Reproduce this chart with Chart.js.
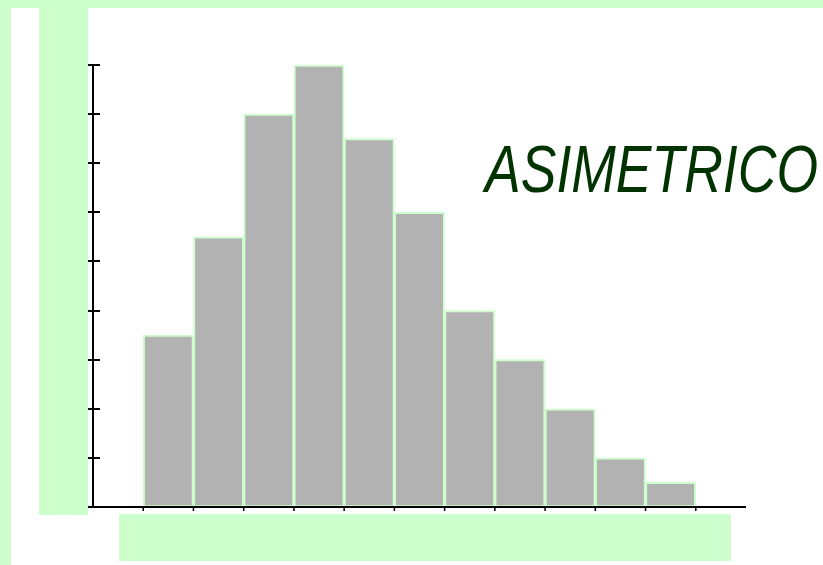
<!DOCTYPE html>
<html>
<head>
<meta charset="utf-8">
<title>Asimetrico</title>
<script src="https://cdn.jsdelivr.net/npm/chart.js@4/dist/chart.umd.min.js"></script>
<style>
    html, body { margin: 0; padding: 0; background: #fff; }
    canvas { display: block; }
</style>
</head>
<body>
<canvas id="hist" width="823" height="565"></canvas>
<script>
// class slots: empty slot at each end so the axis runs past the bars
const classes = ['', 'c1', 'c2', 'c3', 'c4', 'c5', 'c6', 'c7', 'c8', 'c9', 'c10', 'c11', '']
const freq = [null, 3.5, 5.5, 8, 9, 7.5, 6, 4, 3, 2, 1, 0.5, null]
const yTicks = [0, 1, 2, 3, 4, 5, 6, 7, 8, 9]
const title = 'ASIMETRICO'

const pale = '#ccffcc'

// pale green blocks behind the chart
const backdrop = {
    id: 'backdrop',
    beforeDraw(chart) {
        const c = chart.ctx
        c.save()
        c.fillStyle = '#fff'
        c.fillRect(0, 0, chart.width, chart.height)
        c.fillStyle = pale
        c.fillRect(0, 0, chart.width, 8)
        c.fillRect(0, 0, 11, chart.height)
        c.fillRect(39, 8, 49, 507)
        c.fillRect(119, 514, 612, 47)
        c.restore()
    }
}

// hand drawn axes: crossing ticks on y, small drop ticks on x at class limits
const axes = {
    id: 'axes',
    afterDatasetsDraw(chart) {
        const c = chart.ctx
        const x = chart.scales.x, y = chart.scales.y
        const area = chart.chartArea
        const y0 = y.getPixelForValue(0)
        c.save()
        c.strokeStyle = '#000'
        c.lineWidth = 2
        c.beginPath()
        c.moveTo(area.left, y.getPixelForValue(yTicks[yTicks.length - 1]))
        c.lineTo(area.left, y0)
        c.moveTo(area.left - 5, y0)
        c.lineTo(area.right, y0)
        yTicks.forEach(v => {
            const py = Math.round(y.getPixelForValue(v))
            c.moveTo(area.left - 5, py)
            c.lineTo(area.left + 7, py)
        })
        c.stroke()
        c.lineWidth = 1.5
        c.beginPath()
        const half = (x.getPixelForValue(1) - x.getPixelForValue(0)) / 2
        for (let i = 1; i < classes.length - 1; i++) {
            const px = x.getPixelForValue(i) - half
            c.moveTo(px, y0)
            c.lineTo(px, y0 + 4)
            if (i === classes.length - 2) {
                c.moveTo(px + 2 * half, y0)
                c.lineTo(px + 2 * half, y0 + 4)
            }
        }
        c.stroke()
        c.restore()
    }
}

// condensed italic caption
const caption = {
    id: 'caption',
    afterDraw(chart) {
        const c = chart.ctx
        c.save()
        c.font = 'italic 66px "Liberation Sans", Arial, sans-serif'
        c.fillStyle = '#003300'
        c.textBaseline = 'alphabetic'
        const w = c.measureText(title).width
        c.translate(485, 192)
        c.scale(333 / w, 1)
        c.fillText(title, 0, 0)
        c.restore()
    }
}

new Chart(document.getElementById('hist'), {
    type: 'bar',
    data: {
        labels: classes,
        datasets: [{
            data: freq,
            backgroundColor: '#b2b2b2',
            borderColor: pale,
            borderWidth: 2,
            borderSkipped: false,
            categoryPercentage: 1,
            barPercentage: 1
        }]
    },
    options: {
        responsive: false,
        devicePixelRatio: 1,
        animation: false,
        layout: { padding: { left: 93, top: 65, right: 77, bottom: 58 } },
        plugins: {
            legend: { display: false },
            tooltip: { enabled: false }
        },
        scales: {
            x: { display: false, offset: true },
            y: { display: false, min: 0, max: 9 }
        }
    },
    plugins: [backdrop, axes, caption]
})
</script>
</body>
</html>
